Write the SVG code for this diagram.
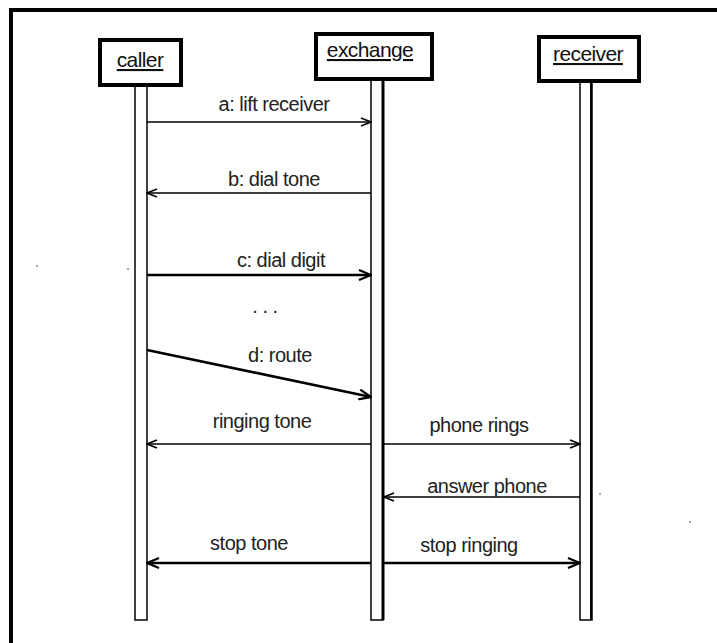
<svg xmlns="http://www.w3.org/2000/svg" width="717" height="643" viewBox="0 0 717 643">
<defs>
<style>
.box{fill:#fff;stroke:#000;stroke-width:4}
.life{fill:#fff;stroke:#000;stroke-width:1.5}
.msg{stroke:#000;stroke-width:1.3;fill:none}
.thick{stroke-width:2.6}
.lbl{font-family:"Liberation Sans",Arial,sans-serif;font-size:20px;fill:#222;text-anchor:middle;letter-spacing:-0.5px}
.nm{font-family:"Liberation Sans",Arial,sans-serif;font-size:21px;fill:#111;text-anchor:middle;text-decoration:underline;letter-spacing:-0.6px}
</style>
<marker id="ah" viewBox="0 0 12 10" refX="11" refY="5" markerWidth="12" markerHeight="10" markerUnits="userSpaceOnUse" orient="auto">
<path d="M1,1 L11,5 L1,9" fill="none" stroke="#000" stroke-width="1.6"/>
</marker>
<marker id="ahb" viewBox="0 0 14 12" refX="13" refY="6" markerWidth="14" markerHeight="12" markerUnits="userSpaceOnUse" orient="auto">
<path d="M1,1 L13,6 L1,11" fill="none" stroke="#000" stroke-width="2.2"/>
</marker>
</defs>
<rect width="717" height="643" fill="#fff"/>
<path d="M11,643 V10 H717" fill="none" stroke="#000" stroke-width="4"/>
<g id="caller">
<rect class="life" x="135" y="86" width="12" height="534"/>
<rect class="box" x="100" y="40" width="81" height="45"/>
<text class="nm" x="140" y="67">caller</text>
</g>
<g id="exchange">
<rect class="life" x="371" y="80" width="12" height="540"/>
<line x1="383" y1="80" x2="383" y2="620" stroke="#000" stroke-width="3"/>
<rect class="box" x="316" y="34" width="116" height="45"/>
<text class="nm" x="370" y="57">exchange</text>
</g>
<g id="receiver">
<rect class="life" x="580" y="82" width="12" height="538"/>
<line x1="591" y1="82" x2="591" y2="620" stroke="#000" stroke-width="2"/>
<rect class="box" x="539" y="37" width="100" height="44"/>
<text class="nm" x="588" y="61">receiver</text>
</g>
<g id="connectors">
<line class="msg" x1="147" y1="122" x2="371" y2="122" marker-end="url(#ah)"/>
<line class="msg" x1="371" y1="193" x2="147" y2="193" marker-end="url(#ah)"/>
<line class="msg thick" x1="147" y1="275" x2="371" y2="275" marker-end="url(#ahb)"/>
<line class="msg thick" x1="147" y1="350" x2="371" y2="397" marker-end="url(#ahb)"/>
<line class="msg" x1="371" y1="444" x2="147" y2="444" marker-end="url(#ah)"/>
<line class="msg" x1="384" y1="444" x2="580" y2="444" marker-end="url(#ah)"/>
<line class="msg" x1="580" y1="497" x2="384" y2="497" marker-end="url(#ah)"/>
<line class="msg thick" x1="371" y1="563" x2="147" y2="563" marker-end="url(#ahb)"/>
<line class="msg thick" x1="384" y1="563" x2="580" y2="563" marker-end="url(#ahb)"/>
</g>
<g id="labels">
<text class="lbl" x="274" y="111">a: lift receiver</text>
<text class="lbl" x="274" y="186">b: dial tone</text>
<text class="lbl" x="281" y="267">c: dial digit</text>
<text class="lbl" x="265" y="313" fill="#555">. . .</text>
<text class="lbl" x="280" y="362">d: route</text>
<text class="lbl" x="262" y="428">ringing tone</text>
<text class="lbl" x="479" y="432">phone rings</text>
<text class="lbl" x="487" y="493">answer phone</text>
<text class="lbl" x="249" y="550">stop tone</text>
<text class="lbl" x="469" y="552">stop ringing</text>
</g>
<g fill="#888">
<circle cx="37" cy="266" r="1"/>
<circle cx="128" cy="269" r="1"/>
<circle cx="600" cy="494" r="1"/>
<circle cx="690" cy="522" r="1"/>
</g>
</svg>
